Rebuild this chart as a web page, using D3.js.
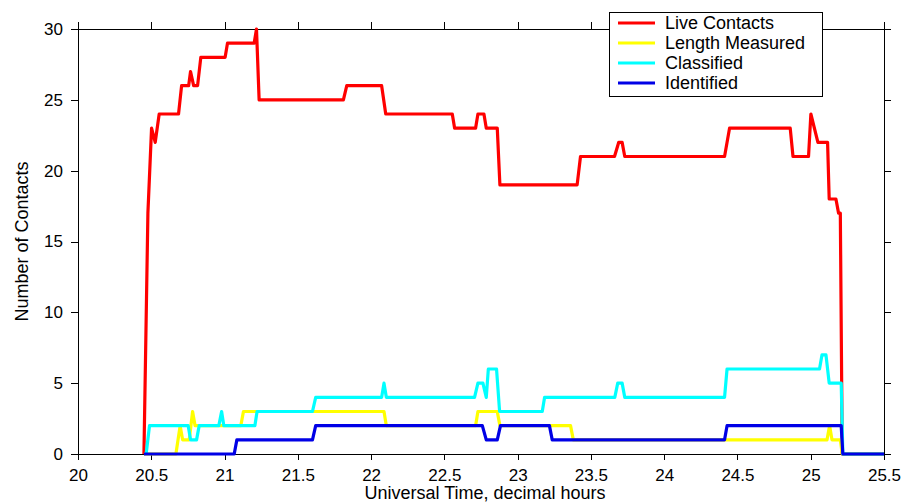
<!DOCTYPE html>
<html>
<head>
<meta charset="utf-8">
<script src="https://cdn.jsdelivr.net/npm/d3@7"></script>
<style>
  body { margin: 0; background: #fff; }
  text { font-family: "Liberation Sans", Arial, sans-serif; fill: #000; }
  .axis path, .axis line { stroke: #000; stroke-width: 1; shape-rendering: crispEdges; }
</style>
</head>
<body>
<div id="chart"></div>
<script>
// Chart data: [time (UT, decimal hours), number of contacts]
const liveContacts = [
  [20.450, 0], [20.477, 17], [20.502, 23], [20.527, 22], [20.554, 24], [20.686, 24],
  [20.707, 26], [20.755, 26], [20.768, 27], [20.789, 26], [20.816, 26], [20.838, 28],
  [21.004, 28], [21.020, 29], [21.202, 29], [21.218, 30], [21.236, 25], [21.811, 25],
  [21.834, 26], [22.072, 26], [22.100, 24], [22.554, 24], [22.570, 23], [22.713, 23],
  [22.729, 24], [22.770, 24], [22.786, 23], [22.861, 23], [22.879, 19], [23.406, 19],
  [23.429, 21], [23.661, 21], [23.690, 22], [23.713, 22], [23.731, 21], [24.412, 21],
  [24.446, 23], [24.860, 23], [24.879, 21], [24.985, 21], [25.001, 24], [25.049, 22],
  [25.115, 22], [25.126, 18], [25.172, 18], [25.190, 17], [25.202, 17], [25.215, 0],
  [25.500, 0]
]

const lengthMeasured = [
  [20.450, 0], [20.668, 0], [20.697, 2], [20.714, 1], [20.759, 1], [20.782, 3],
  [20.799, 2], [21.111, 2], [21.129, 3], [22.088, 3], [22.104, 2], [22.713, 2],
  [22.729, 3], [22.861, 3], [22.879, 2], [23.361, 2], [23.380, 1], [25.111, 1],
  [25.129, 2], [25.145, 1], [25.202, 1], [25.215, 0], [25.500, 0]
]

const classified = [
  [20.465, 0], [20.488, 2], [20.752, 2], [20.768, 1], [20.809, 1], [20.827, 2],
  [20.961, 2], [20.980, 3], [20.995, 2], [21.207, 2], [21.222, 3], [21.600, 3],
  [21.622, 4], [22.072, 4], [22.088, 5], [22.104, 4], [22.706, 4], [22.729, 5],
  [22.763, 5], [22.786, 4], [22.800, 6], [22.856, 6], [22.877, 3], [23.168, 3],
  [23.184, 4], [23.663, 4], [23.683, 5], [23.713, 5], [23.731, 4], [24.412, 4],
  [24.429, 6], [25.060, 6], [25.077, 7], [25.104, 7], [25.126, 5], [25.208, 5],
  [25.219, 0], [25.500, 0]
]

const identified = [
  [20.450, 0], [21.066, 0], [21.084, 1], [21.600, 1], [21.622, 2], [22.759, 2],
  [22.786, 1], [22.861, 1], [22.883, 2], [23.217, 2], [23.236, 1], [24.412, 1],
  [24.429, 2], [25.208, 2], [25.219, 0], [25.500, 0]
]

const seriesNames = ['Live Contacts', 'Length Measured', 'Classified', 'Identified']
const seriesColors = ['#ff0000', '#ffff00', '#00ffff', '#0000e6']
const xTicks = [20, 20.5, 21, 21.5, 22, 22.5, 23, 23.5, 24, 24.5, 25, 25.5]
const yTicks = [0, 5, 10, 15, 20, 25, 30]

// Our canvas
const width = 906,
  height = 502,
  plotLeft = 78,
  plotRight = 884,
  plotTop = 29,
  plotBottom = 454

let svg = d3.select('#chart')
  .append('svg')
  .attr('width', width)
  .attr('height', height)

let x = d3.scaleLinear().domain([20, 25.5]).range([plotLeft, plotRight])
let y = d3.scaleLinear().domain([0, 30]).range([plotBottom, plotTop])

// four sided box, ticks pointing out
svg.append('g')
  .attr('class', 'axis')
  .attr('transform', `translate(0, ${plotBottom})`)
  .call(d3.axisBottom(x).tickValues(xTicks).tickSize(6).tickPadding(9).tickFormat(d3.format('~g')))
  .call(g => g.selectAll('text').style('font-size', '17px'))

svg.append('g')
  .attr('class', 'axis')
  .attr('transform', `translate(0, ${plotTop})`)
  .call(d3.axisTop(x).tickValues(xTicks).tickSize(7).tickFormat(''))

svg.append('g')
  .attr('class', 'axis')
  .attr('transform', `translate(${plotLeft}, 0)`)
  .call(d3.axisLeft(y).tickValues(yTicks).tickSize(7).tickPadding(8))
  .call(g => g.selectAll('text').style('font-size', '17px'))

svg.append('g')
  .attr('class', 'axis')
  .attr('transform', `translate(${plotRight}, 0)`)
  .call(d3.axisRight(y).tickValues(yTicks).tickSize(7).tickFormat(''))

// lines
let line = d3.line()
  .x(d => x(d[0]))
  .y(d => y(d[1]))

let allSeries = [liveContacts, lengthMeasured, classified, identified]

svg.selectAll('path.series')
  .data(allSeries)
  .enter()
  .append('path')
  .attr('class', 'series')
  .attr('d', line)
  .attr('fill', 'none')
  .attr('stroke', (d, i) => seriesColors[i])
  .attr('stroke-width', 3.2)
  .attr('stroke-linejoin', 'round')

// axis titles
svg.append('text')
  .attr('x', (plotLeft + plotRight) / 2 + 4)
  .attr('y', 499)
  .attr('text-anchor', 'middle')
  .style('font-size', '18px')
  .text('Universal Time, decimal hours')

svg.append('text')
  .attr('transform', `translate(28, ${(plotTop + plotBottom) / 2}) rotate(-90)`)
  .attr('text-anchor', 'middle')
  .style('font-size', '18px')
  .text('Number of Contacts')

// legend
let legend = svg.append('g')
  .attr('transform', 'translate(609, 12)')

legend.append('rect')
  .attr('width', 213)
  .attr('height', 84)
  .attr('fill', '#fff')
  .attr('stroke', '#000')
  .attr('shape-rendering', 'crispEdges')

let rows = legend.selectAll('g.row')
  .data(seriesNames)
  .enter()
  .append('g')
  .attr('class', 'row')
  .attr('transform', (d, i) => `translate(0, ${11 + i * 20})`)

rows.append('line')
  .attr('x1', 9)
  .attr('x2', 46)
  .attr('stroke', (d, i) => seriesColors[i])
  .attr('stroke-width', 3)

rows.append('text')
  .attr('x', 56)
  .attr('dy', '0.35em')
  .style('font-size', '18px')
  .text(d => d)
</script>
</body>
</html>
